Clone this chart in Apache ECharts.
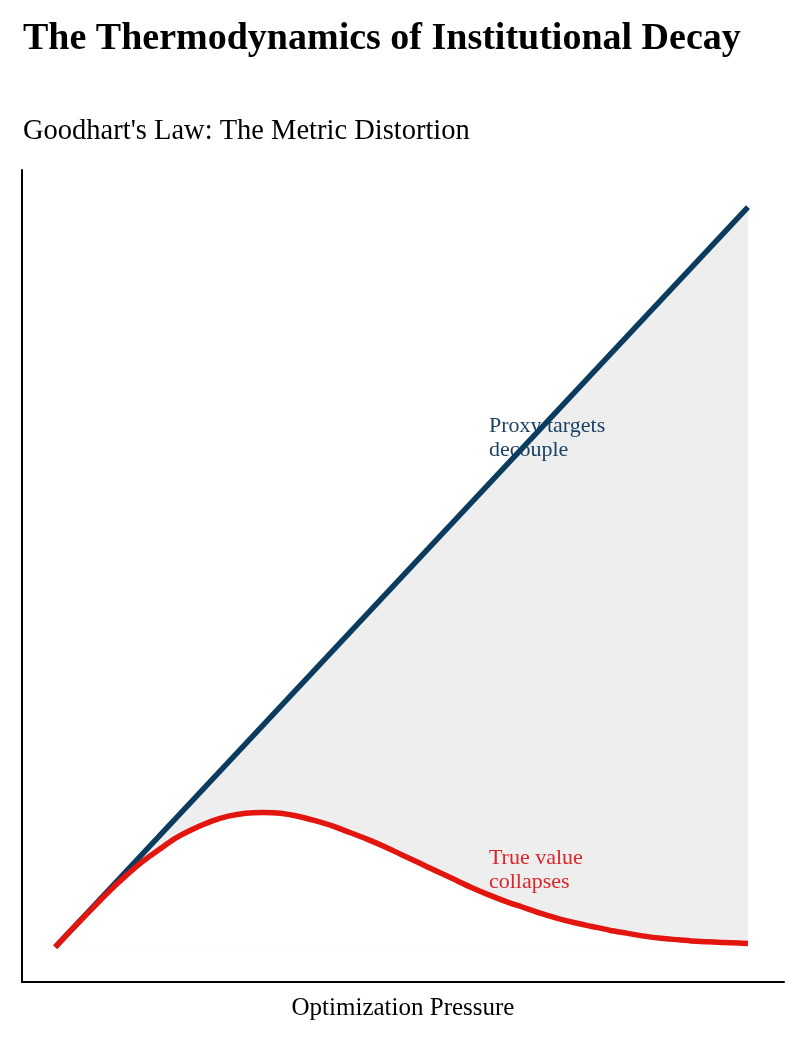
<!DOCTYPE html>
<html>
<head>
<meta charset="utf-8">
<script src="https://cdn.jsdelivr.net/npm/echarts@6/dist/echarts.min.js"></script>
<style>
  html, body { margin: 0; padding: 0; background: #fff; }
  #container { width: 800px; height: 1046px; }
</style>
</head>
<body>
<div id="container"></div>
<script>
// optimization pressure (x) and the two curves
var pressure = [0, 0.25, 0.5, 0.75, 1, 1.25, 1.5, 1.75, 2, 2.25, 2.5, 2.75, 3, 3.25, 3.5, 3.75, 4, 4.25, 4.5, 4.75,
  5, 5.25, 5.5, 5.75, 6, 6.25, 6.5, 6.75, 7, 7.25, 7.5, 7.75, 8, 8.25, 8.5, 8.75, 9, 9.25, 9.5, 9.75, 10];
var proxyValue = [0, 0.25, 0.5, 0.75, 1, 1.25, 1.5, 1.75, 2, 2.25, 2.5, 2.75, 3, 3.25, 3.5, 3.75, 4, 4.25, 4.5, 4.75,
  5, 5.25, 5.5, 5.75, 6, 6.25, 6.5, 6.75, 7, 7.25, 7.5, 7.75, 8, 8.25, 8.5, 8.75, 9, 9.25, 9.5, 9.75, 10];
var trueValue = [0, 0.25, 0.49, 0.73, 0.95, 1.15, 1.32, 1.48, 1.60, 1.70, 1.77, 1.81, 1.82, 1.81, 1.77, 1.71, 1.64, 1.55, 1.46, 1.36,
  1.25, 1.14, 1.03, 0.92, 0.81, 0.71, 0.62, 0.54, 0.46, 0.39, 0.33, 0.28, 0.23, 0.19, 0.15, 0.12, 0.10, 0.08, 0.07, 0.06, 0.05];

var proxyNote = { x: 6.26, y: 7.2, text: 'Proxy targets\ndecouple' };
var trueNote = { x: 6.26, y: 1.36, text: 'True value\ncollapses' };

var serif = '"Liberation Serif", "Times New Roman", serif';

function pairs(ys) {
  return pressure.map(function (x, i) { return [x, ys[i]]; });
}

function note(n, color) {
  return {
    coord: [n.x, n.y],
    symbol: 'rect',
    symbolSize: 0,
    label: {
      show: true,
      position: [0, 0],
      align: 'left',
      verticalAlign: 'top',
      formatter: n.text,
      color: color,
      fontFamily: serif,
      fontSize: 22,
      lineHeight: 24
    }
  };
}

var dom = document.getElementById('container');
var myChart = echarts.init(dom);
var option = {
  backgroundColor: '#fff',
  animation: false,
  title: [
    {
      text: 'The Thermodynamics of Institutional Decay',
      left: 18,
      top: 15,
      textStyle: { fontFamily: serif, fontWeight: 'bold', fontSize: 38, color: '#000' }
    },
    {
      text: "Goodhart's Law: The Metric Distortion",
      left: 18,
      top: 112,
      textStyle: { fontFamily: serif, fontWeight: 'normal', fontSize: 28.5, color: '#000' }
    }
  ],
  grid: { left: 22, right: 16, top: 170, bottom: 64 },
  xAxis: {
    type: 'value',
    min: -0.48,
    max: 10.52,
    name: 'Optimization Pressure',
    nameLocation: 'middle',
    nameGap: 14,
    nameTextStyle: { fontFamily: serif, fontSize: 25, color: '#000' },
    axisLine: { onZero: false, lineStyle: { color: '#000', width: 2 } },
    axisTick: { show: false },
    axisLabel: { show: false },
    splitLine: { show: false }
  },
  yAxis: {
    type: 'value',
    min: -0.47,
    max: 10.5,
    axisLine: { show: true, onZero: false, lineStyle: { color: '#000', width: 2 } },
    axisTick: { show: false },
    axisLabel: { show: false },
    splitLine: { show: false }
  },
  series: [
    {
      // grey fill under the proxy line
      name: 'gapTop',
      type: 'line',
      data: pairs(proxyValue),
      symbol: 'none',
      lineStyle: { opacity: 0 },
      areaStyle: { color: '#eeeeee', opacity: 1, origin: 0 },
      z: 1,
      silent: true,
      markPoint: {
        silent: true,
        data: [note(proxyNote, '#1b4163'), note(trueNote, '#d9262a')]
      }
    },
    {
      // white fill under the true value line, leaves only the gap shaded
      name: 'gapBottom',
      type: 'line',
      data: pairs(trueValue),
      smooth: 0.3,
      symbol: 'none',
      lineStyle: { opacity: 0 },
      areaStyle: { color: '#ffffff', opacity: 1, origin: 0 },
      z: 1,
      silent: true
    },
    {
      name: 'Proxy',
      type: 'line',
      data: pairs(proxyValue),
      symbol: 'none',
      lineStyle: { color: '#0b3b5e', width: 5.5, cap: 'butt' },
      z: 5
    },
    {
      name: 'True value',
      type: 'line',
      data: pairs(trueValue),
      smooth: 0.3,
      symbol: 'none',
      lineStyle: { color: '#e3150f', width: 5.5, cap: 'butt' },
      z: 6
    }
  ]
};
if (option && typeof option === 'object') {
  myChart.setOption(option, true);
}
</script>
</body>
</html>
